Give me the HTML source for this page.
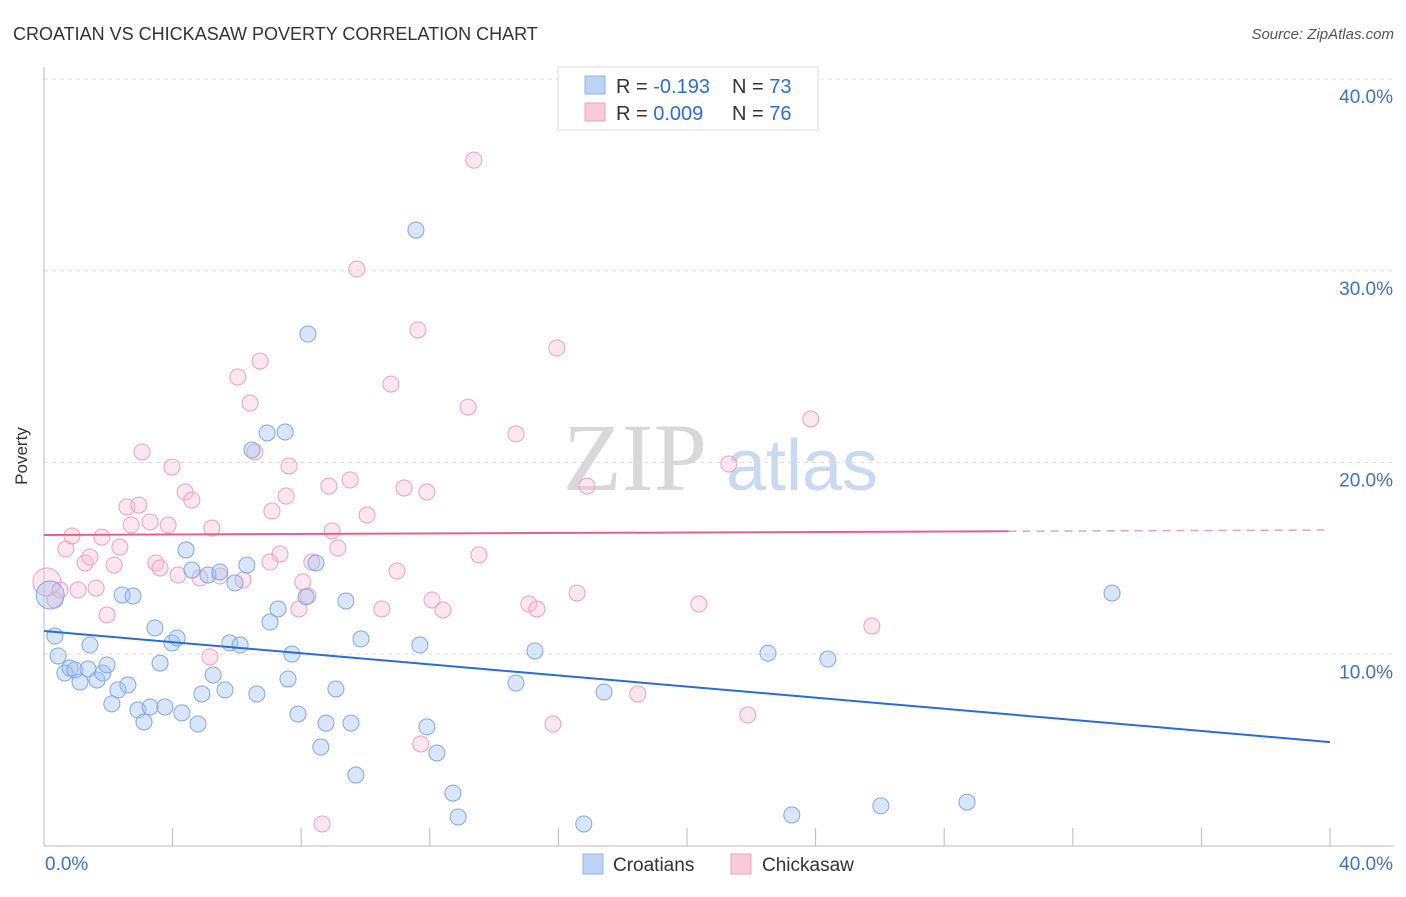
<!DOCTYPE html>
<html><head><meta charset="utf-8">
<style>
body{margin:0;background:#fff;font-family:"Liberation Sans",sans-serif;}
svg text{font-family:"Liberation Sans",sans-serif;}
</style></head>
<body>
<svg id="chart" width="1406" height="892" xmlns="http://www.w3.org/2000/svg">
<text x="13" y="40" font-size="18" fill="#333">CROATIAN VS CHICKASAW POVERTY CORRELATION CHART</text>
<text x="1394" y="39" font-size="15" fill="#555" font-style="italic" text-anchor="end">Source: ZipAtlas.com</text>
<text x="27" y="456" font-size="17" fill="#333" transform="rotate(-90 27 456)" text-anchor="middle">Poverty</text>
<g>
<text x="635" y="490" font-size="96" fill="#d8d8d8" font-family="Liberation Serif" text-anchor="middle" style="font-family:'Liberation Serif',serif">ZIP</text>
<text x="802" y="490" font-size="72" fill="#c8daf2" text-anchor="middle">atlas</text>
</g>
<g id="grid"></g>
<g id="axes"></g>
<g id="points"></g>
<g id="lines"></g>
<g>
<rect x="558" y="67" width="260" height="63" fill="#fff" stroke="#ddd"/>
<rect x="585" y="76" width="20" height="18" fill="#bcd3f5" stroke="#8fb3e8"/>
<text x="616" y="93" font-size="20" fill="#333">R = <tspan fill="#2a6dd9">-0.193</tspan></text>
<text x="732" y="93" font-size="20" fill="#333">N = <tspan fill="#2a6dd9">73</tspan></text>
<rect x="585" y="103" width="20" height="18" fill="#f9cbd8" stroke="#f0a0b8"/>
<text x="616" y="120" font-size="20" fill="#333">R = <tspan fill="#2a6dd9">0.009</tspan></text>
<text x="732" y="120" font-size="20" fill="#333">N = <tspan fill="#2a6dd9">76</tspan></text>
</g>
<g>
<rect x="583" y="854" width="20" height="20" fill="#bcd3f5" stroke="#8fb3e8"/>
<text x="613" y="871" font-size="19" fill="#333">Croatians</text>
<rect x="731" y="854" width="20" height="20" fill="#f9cbd8" stroke="#f0a0b8"/>
<text x="762" y="871" font-size="19" fill="#333">Chickasaw</text>
</g>
</svg>
<script>
const yTicks=[10,20,30,40];
const yTickLabels=["10.0%","20.0%","30.0%","40.0%"];
const xTicks=[0,4,8,12,16,20,24,28,32,36,40];
const croX=[0.19,0.34,0.44,0.65,0.81,0.96,1.12,1.37,1.43,1.65,1.83,1.96,2.11,2.30,2.43,2.61,2.77,2.92,3.11,3.30,3.45,3.61,3.76,3.98,4.14,4.29,4.42,4.60,4.79,4.91,5.10,5.26,5.47,5.63,5.78,5.94,6.10,6.31,6.47,6.62,6.94,7.03,7.28,7.50,7.59,7.71,7.90,8.15,8.21,8.46,8.61,8.77,9.08,9.39,9.55,9.70,9.86,11.57,11.69,11.91,12.22,12.72,12.88,14.68,15.27,16.79,17.42,22.52,23.26,24.38,26.03,28.71,33.22];
const croY=[13.09,10.95,9.91,9.02,9.28,9.18,8.55,9.23,10.48,8.66,9.02,9.44,7.41,8.14,13.09,8.40,13.04,7.09,6.47,7.25,11.37,9.54,7.25,10.59,10.85,6.94,15.44,14.39,6.36,7.93,14.13,8.92,14.29,8.14,10.59,13.72,10.48,14.65,20.65,7.93,21.54,11.68,12.36,21.59,8.71,10.01,6.88,12.99,26.70,14.76,5.16,6.41,8.19,12.78,6.41,3.70,10.80,32.12,10.48,6.21,4.85,2.76,1.51,8.50,10.17,1.15,8.03,10.06,1.62,9.75,2.09,2.29,13.19];
const chiX=[0.09,0.34,0.50,0.68,0.87,1.06,1.28,1.43,1.62,1.80,1.96,2.18,2.36,2.58,2.71,2.95,3.05,3.30,3.48,3.61,3.86,3.98,4.17,4.39,4.60,4.85,5.16,5.22,5.47,6.03,6.19,6.41,6.56,6.72,7.03,7.09,7.34,7.53,7.62,7.93,8.05,8.21,8.33,8.65,8.86,8.96,9.14,9.52,9.73,10.05,10.51,10.79,10.98,11.20,11.63,11.72,11.91,12.07,12.41,13.19,13.37,13.53,14.68,15.08,15.33,15.83,15.95,16.58,16.89,18.47,20.37,21.30,21.89,23.85,25.75];
const chiY=[13.77,12.83,13.35,15.49,16.17,13.35,14.76,15.07,13.45,16.11,12.05,14.65,15.59,17.68,16.74,17.78,20.55,16.90,14.76,14.50,16.74,19.76,14.13,18.46,18.04,13.98,9.86,16.58,14.08,24.46,13.87,23.10,20.55,25.29,14.81,17.47,15.23,18.25,19.82,12.36,13.77,13.04,14.81,1.15,18.77,16.43,15.54,19.09,30.09,17.26,12.36,24.09,14.34,18.67,26.91,5.32,18.46,12.83,12.31,22.89,35.77,15.18,21.49,12.62,12.36,6.36,25.97,13.19,18.77,7.93,12.62,19.92,6.83,22.27,11.47];
const croTrend=[11.21,5.42];
const chiTrend=[16.22,16.48];
const chiSolidEnd=30;
const NS="http://www.w3.org/2000/svg";
function sx(v){return 44+v/40*1286;}
function sy(v){return 846-v/10*191.75;}
function mk(tag,attrs,parent){const e=document.createElementNS(NS,tag);for(const k in attrs)e.setAttribute(k,attrs[k]);document.getElementById(parent).appendChild(e);return e;}
yTicks.forEach((t,i)=>{
 const g=mk('line',{x1:44,x2:1394,y1:sy(t),y2:sy(t),stroke:'#ddd','stroke-dasharray':'4,4'},'grid');
 
 
 const l=mk('text',{x:1393,y:sy(t)+24,'font-size':19,fill:'#3b73c8','text-anchor':'end'},'axes');
 l.textContent=yTickLabels[i];
 
 
});
const ya=mk('line',{x1:44,x2:44,y1:67,y2:846,stroke:'#bbb'},'axes');


const xa=mk('line',{x1:44,x2:1394,y1:846,y2:846,stroke:'#bbb'},'axes');


xTicks.forEach(t=>{
 const k=mk('line',{x1:sx(t),x2:sx(t),y1:828,y2:846,stroke:'#bbb'},'axes');
 
 
});
const x0=mk('text',{x:45,y:870,'font-size':19,fill:'#3b73c8'},'axes');x0.textContent='0.0%';


const x1=mk('text',{x:1393,y:870,'font-size':19,fill:'#3b73c8','text-anchor':'end'},'axes');x1.textContent='40.0%';


chiX.forEach((v,i)=>{
 const c=mk('circle',{cx:sx(v),cy:sy(chiY[i]),r:i==0?14:8,fill:'rgba(247,185,205,0.35)',stroke:'#f0a0b8','stroke-width':1},'points');
 
 
});
croX.forEach((v,i)=>{
 const c=mk('circle',{cx:sx(v),cy:sy(croY[i]),r:i==0?14:8,fill:'rgba(160,192,240,0.4)',stroke:'#7fa8e6','stroke-width':1},'points');
 
 
});
const bl=mk('line',{x1:sx(0),y1:sy(croTrend[0]),x2:sx(40),y2:sy(croTrend[1]),stroke:'#2a6dd9','stroke-width':2},'lines');


const py=v=>chiTrend[0]+(chiTrend[1]-chiTrend[0])*v/40;
const pl=mk('line',{x1:sx(0),y1:sy(py(0)),x2:sx(chiSolidEnd),y2:sy(py(chiSolidEnd)),stroke:'#e8608a','stroke-width':2},'lines');


const pd=mk('line',{x1:sx(chiSolidEnd),y1:sy(py(chiSolidEnd)),x2:sx(40),y2:sy(py(40)),stroke:'#e8a0b8','stroke-width':1.5,'stroke-dasharray':'8,6'},'lines');


</script>
</body></html>
